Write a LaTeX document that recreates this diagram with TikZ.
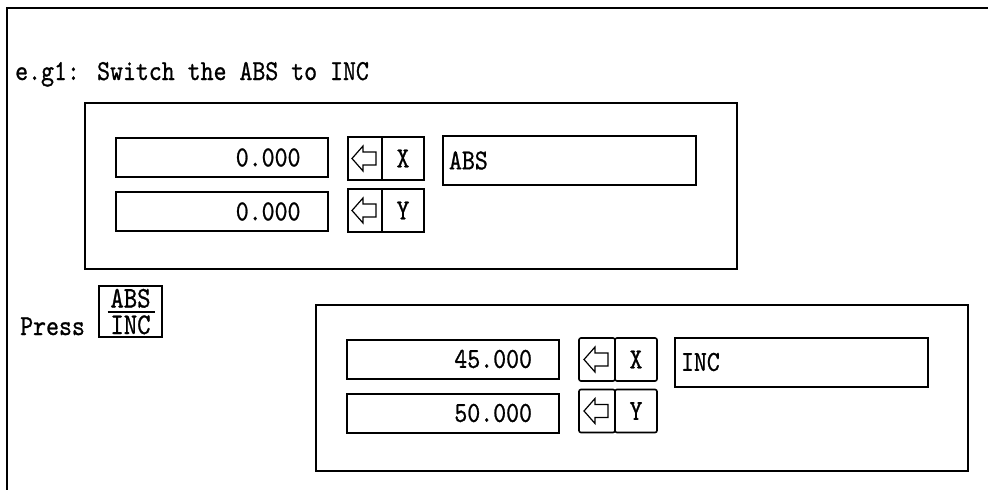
\documentclass[tikz,border=0pt]{standalone}
\usepackage{fontspec}
\newfontfamily\dro[FakeStretch=0.85,FakeBold=0.8]{lmmono10-regular.otf}
\begin{document}
\begin{tikzpicture}[x=1pt,y=-1pt,
  every node/.style={font=\dro\fontsize{29}{29}\selectfont},
  frame/.style={line width=2.5pt},
  panel/.style={draw,line width=2pt,minimum width=652pt,minimum height=166pt,inner sep=0pt},
  field/.style={draw,line width=2pt,minimum width=212pt,minimum height=39pt,inner ysep=0pt,inner xsep=27pt,text width=158pt,align=right},
  arrbtn/.style={draw,line width=1.6pt,minimum width=34pt,minimum height=43pt,inner sep=0pt},
  axbtn/.style={draw,line width=1.6pt,minimum width=42pt,minimum height=43pt,inner sep=0pt},
  modebox/.style={draw,line width=2pt,minimum width=253pt,minimum height=49pt,inner xsep=6pt,inner ysep=0pt,text width=241pt,align=left},
  keytext/.style={inner sep=0pt,text height=18pt,text depth=0pt,font=\dro\fontsize{30}{30}\selectfont},
  larrow/.pic={\draw[line width=1.2pt,line join=miter] (-12,0)--(-1,-12.5)--(-1,-6.5)--(12,-6.5)--(12,6.5)--(-1,6.5)--(-1,12.5)--cycle;}
]
\useasboundingbox (0,0) rectangle (988,490);
% outer frame
\coordinate (tr) at (988,8);
\coordinate (tl) at (7,8);
\coordinate (bl) at (7,490);
\draw[frame] (tr) -- (tl) -- (bl);

\node[anchor=base west,inner sep=0pt] (title) at (15,80) {e.g1: Switch the ABS to INC};

% panel 1
\node[panel] (p1) at (411,186) {};
\node[field] (f1x) at (221.5,157.5) {0.000};
\node[field] (f1y) at (221.5,211.5) {0.000};
\node[arrbtn] (a1x) at (365,158.5) {};
\node[axbtn]  (b1x) at (403,158.5) {X};
\node[arrbtn] (a1y) at (365,210.5) {};
\node[axbtn]  (b1y) at (403,210.5) {Y};
\pic at ([xshift=-1pt]a1x.center) {larrow};
\pic at ([xshift=-1pt]a1y.center) {larrow};
\node[modebox] (m1) at (569.5,160.5) {ABS};

% press key
\node[anchor=base west,inner sep=0pt] (press) at (20,335) {Press};
\node[draw,line width=2pt,minimum width=63pt,minimum height=51pt,inner sep=0pt] (key) at (130.5,311.5) {};
\node[keytext,anchor=base] (keytop) at ([yshift=4pt]key.center) {ABS};
\node[keytext,anchor=base] (keybot) at ([yshift=-22.5pt]key.center) {INC};
\coordinate (kl) at ([xshift=-23pt]key.center);
\coordinate (kr) at ([xshift=24pt]key.center);
\draw[line width=2pt] (kl) -- (kr);

% panel 2
\node[panel] (p2) at (642,387.5) {};
\node[field] (f2x) at (453,359) {45.000};
\node[field] (f2y) at (453,413) {50.000};
\node[arrbtn,minimum width=36pt,rounded corners=2pt] (a2x) at (597,359.5) {};
\node[axbtn,rounded corners=2pt]  (b2x) at (636,359.5) {X};
\node[arrbtn,minimum width=36pt,rounded corners=2pt] (a2y) at (597,411) {};
\node[axbtn,rounded corners=2pt]  (b2y) at (636,411) {Y};
\pic at ([xshift=-1pt]a2x.center) {larrow};
\pic at ([xshift=-1pt]a2y.center) {larrow};
\node[modebox] (m2) at (801.5,362) {INC};
\end{tikzpicture}
\end{document}
